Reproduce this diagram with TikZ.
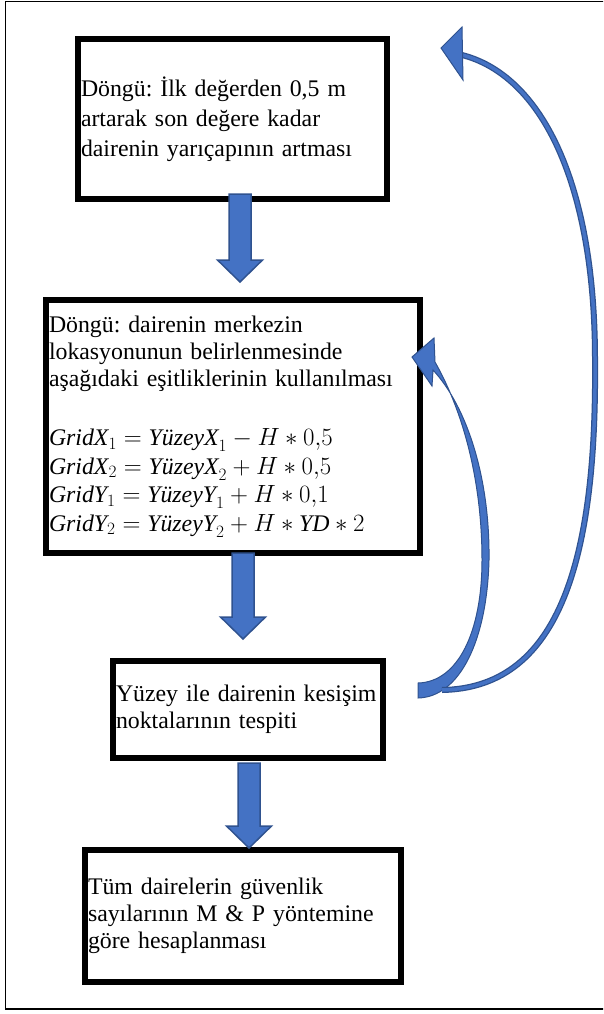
\documentclass[tikz,border=0pt]{standalone}
\usepackage{fontspec}
\setmainfont{Liberation Serif}
\usetikzlibrary{calc}

\definecolor{arrblue}{HTML}{4472C4}
\definecolor{arrline}{HTML}{2F528F}

\tikzset{
  box/.style={draw, line width=6pt, rectangle, anchor=north west,
    inner xsep=3pt, inner ysep=0pt, align=left,
    font=\fontsize{23.8}{27}\selectfont},
  blockarr/.style={draw=arrline, line width=1.5pt, fill=arrblue},
}
% block arrow pointing down: top point, length
\newcommand{\downblock}[2]{%
  \draw[blockarr] ($#1+(-11,0)$) -- ($#1+(11,0)$) -- ($#1+(11,#2-22)$)
    -- ($#1+(22.5,#2-22)$) -- ($#1+(0,#2)$) -- ($#1+(-22.5,#2-22)$)
    -- ($#1+(-11,#2-22)$) -- cycle;}

\begin{document}
\frenchspacing
\begin{tikzpicture}[x=1pt, y=-1pt]
\useasboundingbox (0,0) rectangle (603,1014);
\clip (0,0) rectangle (603,1014);
\draw[line width=1.5pt] (610,1009) -- (5.5,1009) -- (5.5,1.5) -- (610,1.5);

\node[box, text width=303pt, minimum height=160pt,
  font=\fontsize{23.8}{30}\selectfont] (b1) at (75,36)
  {Döngü: İlk değerden 0,5 m\\ artarak son değere kadar\\ dairenin yarıçapının artması};
\node[box, text width=368pt, minimum height=253pt] (b2) at (43,297)
  {Döngü: dairenin merkezin\\ lokasyonunun belirlenmesinde\\ aşağıdaki eşitliklerinin kullanılması\\[32pt]
   $\mathit{GridX}_1 = \mathit{YüzeyX}_1 - H \ast 0{,}5$\\[1.5pt]
   $\mathit{GridX}_2 = \mathit{YüzeyX}_2 + H \ast 0{,}5$\\[1.5pt]
   $\mathit{GridY}_1 = \mathit{YüzeyY}_1 + H \ast 0{,}1$\\[1.5pt]
   $\mathit{GridY}_2 = \mathit{YüzeyY}_2 + H \ast \mathit{YD} \ast 2$};
\node[box, text width=264pt, minimum height=97pt] (b3) at (110,658)
  {Yüzey ile dairenin kesişim\\ noktalarının tespiti};
\node[box, text width=310pt, minimum height=132pt] (b4) at (82,847)
  {Tüm dairelerin güvenlik\\ sayılarının M \& P yöntemine\\ göre hesaplanması};

% block arrows between the boxes
\coordinate (a1) at ($(b1.south)+(7.5,-8)$);
\coordinate (a2) at ($(b2.south)+(10,-3)$);
\coordinate (a3) at ($(b3.south)+(1,2)$);
\downblock{(a1)}{88}
\downblock{(a2)}{86}
\downblock{(a3)}{85}

% loop back arrows
\coordinate (t1) at ($(b3.east)+(32,-14)$);
\fill[arrblue, draw=arrline, line width=1pt]
  (433,370) .. controls (468,408) and (490,480) .. (489,560)
  .. controls (487,640) and (460,697) .. (t1|-0,698) -- (t1|-0,683)
  .. controls (458,682) and (482,632) .. (482,560)
  .. controls (482,485) and (465,415) .. (435,362)
  -- (434,338) -- (412,357) -- (432,386) -- cycle;
\draw[arrline, line width=6pt] (462,55) .. controls (540,75) and (595,180) .. (595,360)
  .. controls (597,570) and (555,688) .. (442,690);
\draw[arrblue, line width=3.5pt] (462,55) .. controls (540,75) and (595,180) .. (595,360)
  .. controls (597,570) and (555,688) .. (442,690);
\fill[arrblue, draw=arrline, line width=1pt] (462,27) -- (441,48) -- (463,80) -- cycle;
\end{tikzpicture}
\end{document}
